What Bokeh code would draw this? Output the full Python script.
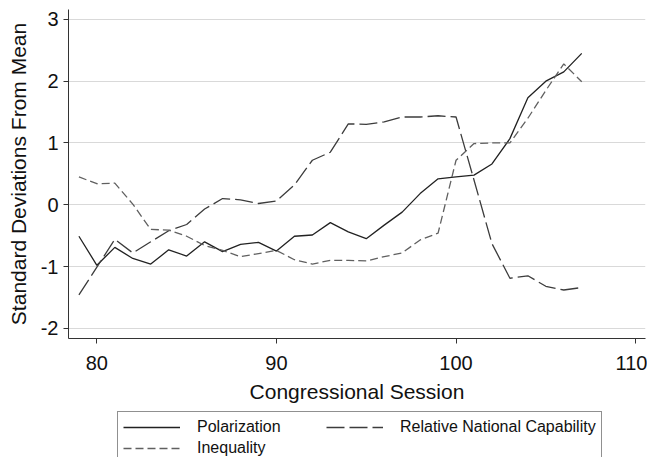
from bokeh.plotting import figure
from bokeh.models import Legend, LegendItem, FixedTicker, Range1d
from bokeh.layouts import column
from bokeh.embed import file_html
from bokeh.resources import INLINE

sessions = list(range(79, 108))
polarization = [-0.51, -0.98, -0.69, -0.87, -0.96, -0.73, -0.83, -0.60, -0.76, -0.64,
                -0.61, -0.75, -0.51, -0.49, -0.29, -0.44, -0.55, -0.33, -0.12, 0.18,
                0.42, 0.45, 0.48, 0.66, 1.07, 1.73, 2.00, 2.15, 2.45]
capability = [-1.46, -1.01, -0.56, -0.78, -0.60, -0.42, -0.32, -0.07, 0.10, 0.08,
              0.02, 0.06, 0.32, 0.72, 0.85, 1.31, 1.30, 1.34, 1.42, 1.42,
              1.44, 1.42, 0.40, -0.63, -1.19, -1.15, -1.32, -1.38, -1.34]
inequality = [0.45, 0.34, 0.35, 0.01, -0.40, -0.41, -0.51, -0.66, -0.74, -0.84,
              -0.79, -0.74, -0.89, -0.96, -0.90, -0.90, -0.91, -0.84, -0.78, -0.57,
              -0.46, 0.72, 0.99, 1.00, 1.00, 1.40, 1.85, 2.28, 1.99]
x_ticks = [80, 90, 100, 110]
y_ticks = [-2, -1, 0, 1, 2, 3]
y_tick_labels = {-2: "-2", -1: "-1", 0: "0", 1: "1", 2: "2", 3: "3"}

FONT = "Liberation Sans"
W = 647

STYLE_POL = dict(line_color="#222222", line_width=1.3)
STYLE_CAP = dict(line_color="#3c3c3c", line_width=1.3, line_dash="18 5")
STYLE_INEQ = dict(line_color="#606060", line_width=1.3, line_dash="8 4")

p = figure(width=W, height=409, output_backend="svg", toolbar_location=None,
           x_range=Range1d(78.42, 110.55), y_range=Range1d(-2.165, 3.16),
           min_border_left=68, min_border_right=2, min_border_top=9, min_border_bottom=71)
p.outline_line_color = None
p.background_fill_color = "white"
p.border_fill_color = "white"

p.xgrid.grid_line_color = None
p.ygrid.grid_line_color = "#d9d9d9"
p.ygrid.grid_line_width = 1

for ax in (p.xaxis[0], p.yaxis[0]):
    ax.axis_line_color = "#333333"
    ax.major_tick_line_color = "#333333"
    ax.major_tick_in = 0
    ax.major_tick_out = 5
    ax.minor_tick_line_color = None
    ax.major_label_text_font = FONT
    ax.major_label_text_font_size = "20px"
    ax.major_label_text_color = "#111111"
    ax.axis_label_text_font = FONT
    ax.axis_label_text_font_size = "21px"
    ax.axis_label_text_font_style = "normal"
    ax.axis_label_text_color = "#111111"

p.xaxis.ticker = FixedTicker(ticks=x_ticks)
p.yaxis.ticker = FixedTicker(ticks=y_ticks)
p.yaxis.major_label_overrides = y_tick_labels
p.xaxis.axis_label = "Congressional Session"
p.yaxis.axis_label = "Standard Deviations From Mean"
p.xaxis.major_label_standoff = 12
p.xaxis.axis_label_standoff = 7
p.yaxis.major_label_standoff = 5
p.yaxis.axis_label_standoff = 8

p.line(sessions, polarization, **STYLE_POL)
p.line(sessions, capability, **STYLE_CAP)
p.line(sessions, inequality, **STYLE_INEQ)

# legend panel below the plot (its frame is aligned with the main frame by the column)
LH = 48
q = figure(width=W, height=LH, output_backend="svg", toolbar_location=None,
           x_range=Range1d(0, 1), y_range=Range1d(0, 1),
           x_axis_location=None, y_axis_location=None,
           min_border_left=0, min_border_right=0, min_border_top=0, min_border_bottom=0)
q.outline_line_color = None
q.grid.visible = False
q.border_fill_color = "white"
q.background_fill_color = "white"

# same series, outside this panel's view: only their legend samples show
k_pol = q.line(sessions, polarization, **STYLE_POL)
k_ineq = q.line(sessions, inequality, **STYLE_INEQ)
k_cap = q.line(sessions, capability, **STYLE_CAP)

legend = Legend(items=[
    LegendItem(label="Polarization", renderers=[k_pol]),
    LegendItem(label="Inequality", renderers=[k_ineq]),
    LegendItem(label="Relative National Capability", renderers=[k_cap]),
], location=(49, -7), ncols=2)
legend.label_text_font = FONT
legend.label_text_font_size = "16px"
legend.label_text_color = "#111111"
legend.glyph_width = 57
legend.glyph_height = 20
legend.label_height = 20
legend.label_width = 128
legend.label_standoff = 17
legend.padding = 5
legend.spacing = 1
legend.margin = 0
legend.border_line_color = "#222222"
legend.border_line_width = 1
legend.background_fill_color = "white"
legend.background_fill_alpha = 1
q.add_layout(legend, "center")

layout = column(p, q, spacing=0)
open("out.html", "w").write(file_html(layout, INLINE))
